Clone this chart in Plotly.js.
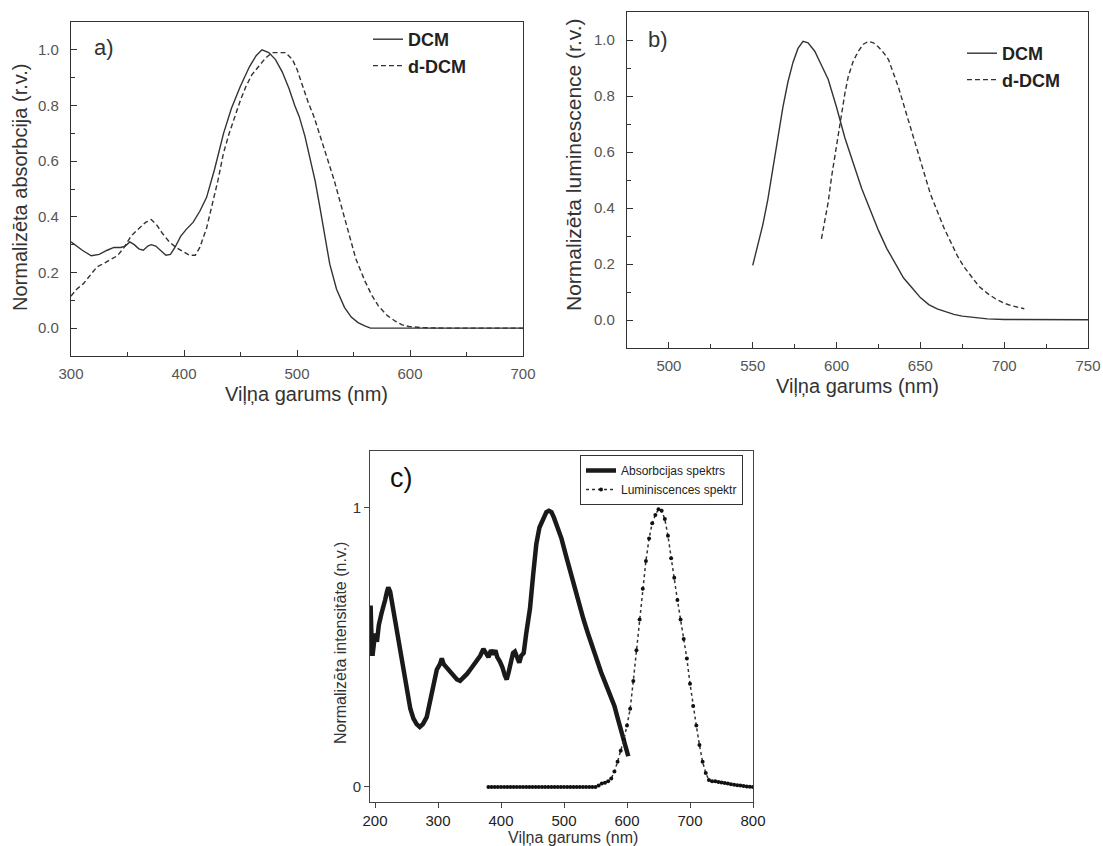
<!DOCTYPE html>
<html>
<head>
<meta charset="utf-8">
<script src="https://cdn.plot.ly/plotly-3.0.1.min.js"></script>
<style>html,body{margin:0;padding:0;background:#fff;}#chart{width:1103px;height:846px;}</style>
</head>
<body>
<div id="chart"></div>
<script>
// ---- Panel a) absorption ----
const aWaveDCM = [300,305,310,318,325,332,338,344,348,352,356,360,364,368,371,375,380,384,388,392,397,402,408,414,420,427,435,442,450,458,464,469,475,481,487,493,498,502,507,511,516,520,525,529,535,542,548,554,560,565,580,600,620,640,660,680,700];
const aDCM = [0.31,0.295,0.28,0.26,0.265,0.28,0.29,0.29,0.295,0.31,0.30,0.285,0.28,0.295,0.30,0.295,0.275,0.262,0.265,0.29,0.33,0.355,0.38,0.42,0.47,0.57,0.70,0.79,0.87,0.94,0.98,1.0,0.99,0.965,0.92,0.86,0.80,0.76,0.69,0.62,0.53,0.44,0.33,0.23,0.14,0.075,0.04,0.02,0.008,0.0,0,0,0,0,0,0,0];
const aWaveDDCM = [300,305,311,317,323,330,336,341,347,353,358,362,366,371,376,381,387,393,399,405,410,414,420,426,430,435,440,445,450,455,460,466,472,478,484,490,496,500,505,510,515,520,526,533,539,545,552,560,566,572,580,587,593,599,610,630,660,700];
const aDDCM = [0.115,0.14,0.16,0.19,0.22,0.235,0.25,0.26,0.29,0.33,0.35,0.365,0.38,0.39,0.37,0.34,0.31,0.29,0.275,0.262,0.262,0.29,0.36,0.46,0.53,0.63,0.70,0.76,0.82,0.87,0.91,0.94,0.97,0.99,0.99,0.99,0.965,0.93,0.87,0.81,0.76,0.70,0.62,0.53,0.44,0.35,0.25,0.17,0.12,0.08,0.045,0.025,0.012,0.006,0.002,0,0,0];

// ---- Panel b) luminescence ----
const bWaveDCM = [550,553,556,559,562,565,568,571,574,577,580,583,587,591,595,600,605,610,615,620,625,630,635,640,645,650,655,660,665,670,675,680,690,700,720,750];
const bDCM = [0.195,0.27,0.34,0.43,0.54,0.65,0.76,0.85,0.92,0.97,0.995,0.99,0.96,0.91,0.86,0.76,0.65,0.56,0.47,0.395,0.32,0.255,0.20,0.15,0.115,0.08,0.055,0.04,0.03,0.02,0.014,0.01,0.004,0.002,0.001,0.001];
const bWaveDDCM = [591,593,595,597,599,601,603,605,607,610,613,616,619,622,625,628,631,634,637,640,644,648,652,656,660,664,668,672,676,680,685,690,695,700,705,712];
const bDDCM = [0.29,0.36,0.42,0.51,0.585,0.67,0.75,0.81,0.87,0.925,0.96,0.985,0.995,0.99,0.975,0.955,0.93,0.88,0.83,0.77,0.69,0.61,0.53,0.45,0.39,0.33,0.28,0.23,0.19,0.16,0.12,0.095,0.075,0.06,0.05,0.04];

// ---- Panel c) absorption & luminescence spectra ----
const cWaveAbs = [192,193,194,196,198,200,203,206,210,213,216,219,221,224,227,232,237,243,250,256,261,266,271,276,282,288,293,298,303,306,309,313,319,325,330,335,340,346,351,356,362,367,372,376,380,384,388,391,394,398,402,406,409,412,416,419,422,426,429,432,436,440,446,451,456,461,467,472,476,480,484,490,496,503,510,517,524,531,538,545,552,559,566,573,580,586,592,597,600,602];
const cAbs = [0.47,0.65,0.56,0.47,0.52,0.55,0.52,0.58,0.62,0.64,0.67,0.70,0.715,0.70,0.66,0.58,0.52,0.43,0.34,0.28,0.245,0.225,0.215,0.225,0.25,0.31,0.37,0.42,0.44,0.46,0.44,0.43,0.41,0.395,0.385,0.38,0.39,0.405,0.42,0.435,0.45,0.47,0.495,0.48,0.465,0.49,0.475,0.49,0.465,0.45,0.43,0.40,0.385,0.41,0.45,0.48,0.485,0.46,0.445,0.47,0.48,0.55,0.64,0.76,0.87,0.93,0.965,0.985,0.99,0.985,0.965,0.93,0.89,0.83,0.77,0.72,0.66,0.60,0.55,0.50,0.45,0.41,0.37,0.33,0.29,0.24,0.19,0.15,0.12,0.11];
const cWaveLum = [380,385,390,395,400,405,410,415,420,425,430,435,440,445,450,455,460,465,470,475,480,485,490,495,500,505,510,515,520,525,530,535,540,545,550,555,560,565,570,575,580,585,590,595,600,605,610,615,620,625,630,635,640,645,650,655,660,665,670,675,680,685,690,695,700,705,710,715,720,725,730,735,740,745,750,755,760,765,770,775,780,785,790,795,800];
const cLum = [0,0,0,0,0,0,0,0,0,0,0,0,0,0,0,0,0,0,0,0,0,0,0,0,0,0,0,0,0,0,0,0,0,0,0,0.005,0.012,0.015,0.02,0.03,0.055,0.09,0.13,0.17,0.22,0.28,0.38,0.49,0.60,0.71,0.81,0.89,0.945,0.975,0.995,0.99,0.96,0.90,0.82,0.75,0.67,0.60,0.53,0.46,0.37,0.29,0.22,0.15,0.09,0.05,0.025,0.02,0.02,0.018,0.016,0.014,0.012,0.01,0.008,0.006,0.005,0.003,0.002,0.001,0];

const FONT = 'Liberation Sans, Arial, sans-serif';
const W = 1103, H = 846;
const px = v => v / W;
const py = v => 1 - v / H;

const traces = [
  {x: aWaveDCM, y: aDCM, xaxis: 'x', yaxis: 'y', mode: 'lines', name: 'DCM', legend: 'legend',
   line: {color: '#333', width: 1.4}},
  {x: aWaveDDCM, y: aDDCM, xaxis: 'x', yaxis: 'y', mode: 'lines', name: 'd-DCM', legend: 'legend',
   line: {color: '#333', width: 1.4, dash: '5px,3px'}},
  {x: bWaveDCM, y: bDCM, xaxis: 'x2', yaxis: 'y2', mode: 'lines', name: 'DCM', legend: 'legend2',
   line: {color: '#333', width: 1.4}},
  {x: bWaveDDCM, y: bDDCM, xaxis: 'x2', yaxis: 'y2', mode: 'lines', name: 'd-DCM', legend: 'legend2',
   line: {color: '#333', width: 1.4, dash: '5px,3px'}},
  {x: cWaveAbs, y: cAbs, xaxis: 'x3', yaxis: 'y3', mode: 'lines', name: 'Absorbcijas spektrs', legend: 'legend3',
   line: {color: '#1a1a1a', width: 4.5}},
  {x: cWaveLum, y: cLum, xaxis: 'x3', yaxis: 'y3', mode: 'lines+markers', name: 'Luminiscences spektr', legend: 'legend3',
   line: {color: '#333', width: 1.5, dash: 'dot'}, marker: {color: '#111', size: 4, symbol: 'circle'}}
];

const boxAxis = {
  showline: true, mirror: true, linecolor: '#333', linewidth: 1.2,
  showgrid: false, zeroline: false, ticks: 'inside', ticklen: 6, tickwidth: 1, tickcolor: '#333',
  tickfont: {family: FONT, size: 15, color: '#555'}
};

const layout = {
  width: W, height: H,
  margin: {l: 0, r: 0, t: 0, b: 0},
  paper_bgcolor: '#fff', plot_bgcolor: '#fff',
  showlegend: true,
  xaxis: Object.assign({}, boxAxis, {domain: [px(71), px(523)], anchor: 'y', range: [300, 700], dtick: 100,
    minor: {ticks: 'inside', dtick: 50, ticklen: 4, tickcolor: '#333'}, ticklabelstandoff: 4}),
  yaxis: Object.assign({}, boxAxis, {domain: [py(356), py(22)], anchor: 'x', range: [-0.1, 1.1], dtick: 0.2, tick0: 0,
    tickformat: '.1f', minor: {ticks: 'inside', dtick: 0.1, ticklen: 4, tickcolor: '#333'}, ticklabelstandoff: 8}),
  xaxis2: Object.assign({}, boxAxis, {domain: [px(627), px(1088)], anchor: 'y2', range: [475, 750], dtick: 50, tick0: 0,
    minor: {ticks: 'inside', dtick: 25, ticklen: 4, tickcolor: '#333'}, ticklabelstandoff: 4}),
  yaxis2: Object.assign({}, boxAxis, {domain: [py(348), py(12)], anchor: 'x2', range: [-0.1, 1.1], dtick: 0.2, tick0: 0,
    tickformat: '.1f', minor: {ticks: 'inside', dtick: 0.1, ticklen: 4, tickcolor: '#333'}, ticklabelstandoff: 8}),
  xaxis3: {domain: [px(370), px(753)], anchor: 'y3', range: [192, 800], dtick: 100, tick0: 0,
    showline: true, mirror: true, linecolor: '#444', linewidth: 1, showgrid: false, zeroline: false,
    ticks: 'outside', ticklen: 5, tickcolor: '#444', tickfont: {family: FONT, size: 15, color: '#222'}},
  yaxis3: {domain: [py(802), py(451)], anchor: 'x3', range: [-0.054, 1.204], tickvals: [0, 1], ticktext: ['0', '1'],
    showline: true, mirror: true, linecolor: '#444', linewidth: 1, showgrid: false, zeroline: false,
    ticks: 'outside', ticklen: 5, tickcolor: '#444', tickfont: {family: FONT, size: 15, color: '#333'}},
  legend: {x: px(368), y: py(21), xanchor: 'left', yanchor: 'top', bgcolor: 'rgba(0,0,0,0)',
    font: {family: FONT, size: 18, color: '#222', weight: 'bold'}, tracegroupgap: 0, itemwidth: 30},
  legend2: {x: px(962), y: py(35), xanchor: 'left', yanchor: 'top', bgcolor: 'rgba(0,0,0,0)',
    font: {family: FONT, size: 18, color: '#222', weight: 'bold'}, tracegroupgap: 0, itemwidth: 30},
  legend3: {x: px(580), y: py(455), xanchor: 'left', yanchor: 'top', bgcolor: '#fff',
    bordercolor: '#333', borderwidth: 1, font: {family: FONT, size: 12, color: '#222'}, tracegroupgap: 0, itemwidth: 30},
  annotations: [
    {text: 'a)', x: px(92), y: py(48), xref: 'paper', yref: 'paper', xanchor: 'left', yanchor: 'middle', showarrow: false,
     font: {family: FONT, size: 22, color: '#333'}},
    {text: 'b)', x: px(646), y: py(40), xref: 'paper', yref: 'paper', xanchor: 'left', yanchor: 'middle', showarrow: false,
     font: {family: FONT, size: 22, color: '#333'}},
    {text: 'c)', x: px(388), y: py(478), xref: 'paper', yref: 'paper', xanchor: 'left', yanchor: 'middle', showarrow: false,
     font: {family: FONT, size: 27, color: '#111'}},
    {text: 'Normalizēta absorbcija (r.v.)', x: px(20), y: py(188), xref: 'paper', yref: 'paper', textangle: -90,
     xanchor: 'center', yanchor: 'middle', showarrow: false, font: {family: FONT, size: 20, color: '#333'}},
    {text: 'Viļņa garums (nm)', x: px(306), y: py(394), xref: 'paper', yref: 'paper',
     xanchor: 'center', yanchor: 'middle', showarrow: false, font: {family: FONT, size: 20, color: '#333'}},
    {text: 'Normalizēta luminescence (r.v.)', x: px(573), y: py(165), xref: 'paper', yref: 'paper', textangle: -90,
     xanchor: 'center', yanchor: 'middle', showarrow: false, font: {family: FONT, size: 21, color: '#333'}},
    {text: 'Viļņa garums (nm)', x: px(857), y: py(386), xref: 'paper', yref: 'paper',
     xanchor: 'center', yanchor: 'middle', showarrow: false, font: {family: FONT, size: 20, color: '#333'}},
    {text: 'Normalizēta intensitāte (n.v.)', x: px(340), y: py(643), xref: 'paper', yref: 'paper', textangle: -90,
     xanchor: 'center', yanchor: 'middle', showarrow: false, font: {family: FONT, size: 16, color: '#333'}},
    {text: 'Viļņa garums (nm)', x: px(573), y: py(837), xref: 'paper', yref: 'paper',
     xanchor: 'center', yanchor: 'middle', showarrow: false, font: {family: FONT, size: 16, color: '#333'}}
  ]
};

Plotly.newPlot('chart', traces, layout, {staticPlot: true, displayModeBar: false});
</script>
</body>
</html>
